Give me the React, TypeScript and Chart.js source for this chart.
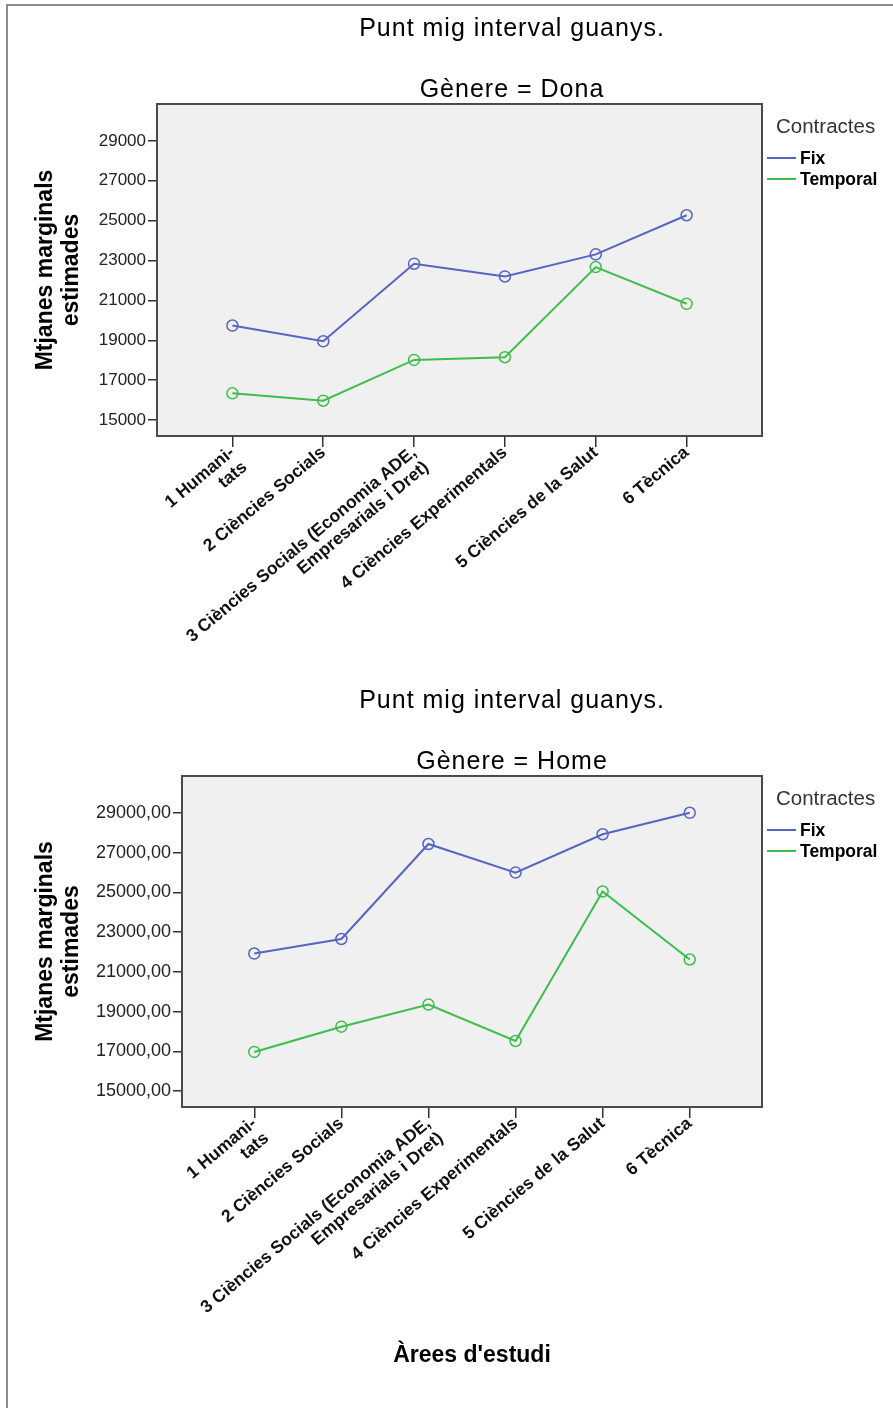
import React, { useEffect, useRef } from 'react';
import { Chart, registerables } from 'chart.js';

Chart.register(...registerables);

// ---------- data ----------
const categories: string[][] = [
  ['1 Humani-', 'tats'],
  ['2 Ciències Socials'],
  ['3 Ciències Socials (Economia ADE,', 'Empresarials i Dret)'],
  ['4 Ciències Experimentals'],
  ['5 Ciències de la Salut'],
  ['6 Tècnica'],
];
const categoryIndex = [0, 1, 2, 3, 4, 5];

const seriesNames = ['Fix', 'Temporal'];
const seriesColors = ['#5466C4', '#3DBE4A'];

const fixDona = [19740, 18950, 22840, 22200, 23310, 25270];
const temporalDona = [16340, 15970, 18015, 18150, 22670, 20830];
const fixHome = [21920, 22650, 27430, 25990, 27920, 29000];
const temporalHome = [16970, 18240, 19350, 17520, 25040, 21620];

const yTickValues = [15000, 17000, 19000, 21000, 23000, 25000, 27000, 29000];
const yTickLabelsDona = ['15000', '17000', '19000', '21000', '23000', '25000', '27000', '29000'];
const yTickLabelsHome = ['15000,00', '17000,00', '19000,00', '21000,00', '23000,00', '25000,00', '27000,00', '29000,00'];

const mainTitle = 'Punt mig interval guanys.';
const subtitleDona = 'Gènere = Dona';
const subtitleHome = 'Gènere = Home';
const legendTitle = 'Contractes';
const yAxisTitle = ['Mtjanes marginals', 'estimades'];
const xAxisTitle = "Àrees d'estudi";

const FONT = '"Liberation Sans", Arial, Helvetica, sans-serif';
Chart.defaults.font.family = FONT;

function drawText(
  ctx: CanvasRenderingContext2D,
  s: string,
  x: number,
  y: number,
  font: string,
  color: string,
  align: CanvasTextAlign,
  spacing = 0
) {
  ctx.save();
  ctx.font = font;
  ctx.fillStyle = color;
  ctx.textAlign = align;
  ctx.textBaseline = 'alphabetic';
  (ctx as any).letterSpacing = spacing + 'px';
  ctx.fillText(s, x, y);
  ctx.restore();
}

const decorPlugin = {
  id: 'decor',
  beforeDraw(chart: any) {
    const { ctx, chartArea: a } = chart;
    ctx.save();
    ctx.fillStyle = '#F0F0F0';
    ctx.fillRect(a.left, a.top, a.right - a.left, a.bottom - a.top);
    ctx.restore();
  },
  afterDraw(chart: any, _args: any, opts: any) {
    const { ctx, chartArea: a } = chart;
    ctx.save();
    ctx.strokeStyle = '#4a4a4a';
    ctx.lineWidth = 2;
    ctx.strokeRect(a.left, a.top, a.right - a.left, a.bottom - a.top);
    ctx.restore();

    drawText(ctx, mainTitle, 512, 36, `25px ${FONT}`, '#000', 'center', 1);
    drawText(ctx, opts.subtitle, 512, 97, `25px ${FONT}`, '#000', 'center', 1);

    // legend
    drawText(ctx, legendTitle, 776, 133, `20.5px ${FONT}`, '#333', 'left');
    seriesNames.forEach((name, i) => {
      const y = 158 + i * 21;
      ctx.save();
      ctx.strokeStyle = seriesColors[i];
      ctx.lineWidth = 2;
      ctx.beginPath();
      ctx.moveTo(767, y);
      ctx.lineTo(796, y);
      ctx.stroke();
      ctx.restore();
      drawText(ctx, name, 800, y + 6.3, `bold 17.5px ${FONT}`, '#000', 'left');
    });

    if (opts.xTitle) {
      drawText(ctx, xAxisTitle, (a.left + a.right) / 2, 690, `bold 23px ${FONT}`, '#000', 'center');
    }
  },
};

interface PanelOpts {
  fix: number[];
  temp: number[];
  tickLabels: string[];
  tickFontSize: number;
  yAxisWidth: number;
  canvasHeight: number;
  chartBottom: number;
  subtitle: string;
  xTitle: boolean;
}

function buildConfig(p: PanelOpts): any {
  const padLeft = 28;
  const padTop = 104;
  const chartRight = 762;
  const xAxisHeight = p.canvasHeight - p.chartBottom;
  return {
    type: 'line',
    data: {
      datasets: [p.fix, p.temp].map((vals, i) => ({
        label: seriesNames[i],
        data: vals.map((v, k) => ({ x: categoryIndex[k], y: v })),
        borderColor: seriesColors[i],
        backgroundColor: 'rgba(0,0,0,0)',
        borderWidth: 2,
        tension: 0,
        pointStyle: 'circle',
        pointRadius: 5.5,
        pointBorderWidth: 1.5,
        pointBorderColor: seriesColors[i],
        pointBackgroundColor: 'rgba(0,0,0,0)',
        fill: false,
      })),
    },
    options: {
      animation: false,
      responsive: false,
      devicePixelRatio: 1,
      layout: {
        padding: {
          left: padLeft,
          top: padTop,
          right: 893 - chartRight,
          bottom: 0,
        },
      },
      plugins: {
        legend: { display: false },
        tooltip: { enabled: false },
        decor: { subtitle: p.subtitle, xTitle: p.xTitle },
      },
      scales: {
        x: {
          type: 'linear',
          min: -0.83,
          max: 5.83,
          border: { display: false },
          grid: {
            drawOnChartArea: false,
            drawTicks: true,
            tickLength: 11,
            color: '#333',
            lineWidth: 1.5,
          },
          ticks: {
            autoSkip: false,
            minRotation: 40,
            maxRotation: 40,
            padding: -4,
            color: '#111',
            font: { size: 17.5, weight: 'bold', lineHeight: 1.1 },
            callback: (v: number) => categories[Math.round(v)],
          },
          afterBuildTicks: (s: any) => {
            s.ticks = categoryIndex.map((v) => ({ value: v }));
          },
          afterFit: (s: any) => {
            s.height = xAxisHeight;
          },
        },
        y: {
          type: 'linear',
          min: 14200,
          max: 30850,
          border: { display: false },
          grid: {
            drawOnChartArea: false,
            drawTicks: true,
            tickLength: 9,
            color: '#333',
            lineWidth: 1.5,
          },
          ticks: {
            padding: 2,
            color: '#222',
            font: { size: p.tickFontSize },
            callback: (_v: number, i: number) => p.tickLabels[i],
          },
          title: {
            display: true,
            text: yAxisTitle,
            color: '#000',
            font: { size: 23, weight: 'bold', lineHeight: 1.15 },
            padding: { top: 4, bottom: 0 },
          },
          afterBuildTicks: (s: any) => {
            s.ticks = yTickValues.map((v) => ({ value: v }));
          },
          afterFit: (s: any) => {
            s.width = p.yAxisWidth;
          },
        },
      },
    },
    plugins: [decorPlugin],
  };
}

export default function App() {
  const topRef = useRef<HTMLCanvasElement>(null);
  const botRef = useRef<HTMLCanvasElement>(null);

  useEffect(() => {
    const c1 = new Chart(
      topRef.current as HTMLCanvasElement,
      buildConfig({
        fix: fixDona,
        temp: temporalDona,
        tickLabels: yTickLabelsDona,
        tickFontSize: 17,
        yAxisWidth: 157 - 28,
        canvasHeight: 672,
        chartBottom: 436,
        subtitle: subtitleDona,
        xTitle: false,
      })
    );
    const c2 = new Chart(
      botRef.current as HTMLCanvasElement,
      buildConfig({
        fix: fixHome,
        temp: temporalHome,
        tickLabels: yTickLabelsHome,
        tickFontSize: 18,
        yAxisWidth: 182 - 28,
        canvasHeight: 736,
        chartBottom: 435,
        subtitle: subtitleHome,
        xTitle: true,
      })
    );
    return () => {
      c1.destroy();
      c2.destroy();
    };
  }, []);

  return (
    <div
      style={{
        position: 'absolute',
        left: 0,
        top: 0,
        width: 893,
        height: 1408,
        background: '#fff',
        overflow: 'hidden',
      }}
    >
      <div
        style={{
          position: 'absolute',
          left: 6,
          top: 4,
          width: 900,
          height: 1420,
          borderTop: '2px solid #8c8c8c',
          borderLeft: '2px solid #8c8c8c',
        }}
      />
      <canvas ref={topRef} width={893} height={672} style={{ position: 'absolute', left: 0, top: 0 }} />
      <canvas ref={botRef} width={893} height={736} style={{ position: 'absolute', left: 0, top: 672 }} />
    </div>
  );
}
